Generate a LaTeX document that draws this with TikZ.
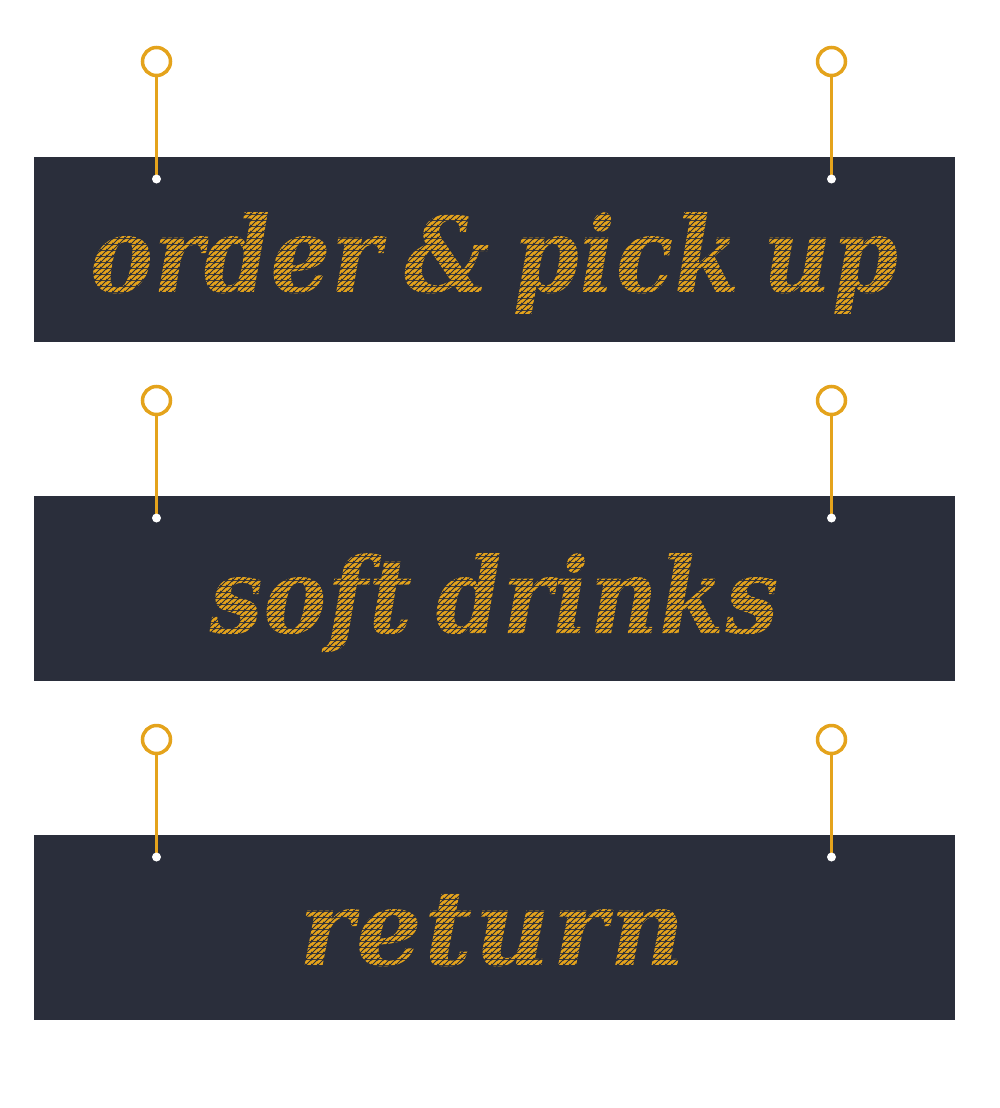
\documentclass[tikz,border=0pt]{standalone}
\usepackage{fontspec}
\newfontfamily\signfont[WordSpace=0.7]{DejaVu Serif Condensed}
\definecolor{boardC}{HTML}{2A2E3B}
\definecolor{goldC}{HTML}{E4A31C}
\pgfdeclarepatterninherentlycolored{hatchtext}{\pgfpointorigin}{\pgfqpoint{3pt}{3pt}}{\pgfqpoint{3pt}{3pt}}{%
  \pgfsetfillcolor{goldC}%
  \pgfpathrectangle{\pgfpointorigin}{\pgfqpoint{3pt}{3pt}}\pgfusepath{fill}%
  \pgfsetstrokecolor{boardC}\pgfsetlinewidth{0.45pt}%
  \pgfpathmoveto{\pgfqpoint{-0.5pt}{-0.5pt}}\pgfpathlineto{\pgfqpoint{3.5pt}{3.5pt}}%
  \pgfpathmoveto{\pgfqpoint{-0.5pt}{2.5pt}}\pgfpathlineto{\pgfqpoint{0.5pt}{3.5pt}}%
  \pgfpathmoveto{\pgfqpoint{2.5pt}{-0.5pt}}\pgfpathlineto{\pgfqpoint{3.5pt}{0.5pt}}%
  \pgfusepath{stroke}}
\newcommand\hatched[2]{\addfontfeature{LetterSpace=#1}\pgfsetfillpattern{hatchtext}{goldC}#2}
\tikzset{
  board/.style={rectangle, fill=boardC, draw=none, minimum width=460.5pt, minimum height=92.5pt, inner sep=0pt, outer sep=0pt},
  ring/.style={circle, draw=goldC, line width=1.75pt, minimum size=14pt, inner sep=0pt, outer sep=0pt},
  stem/.style={draw=goldC, line width=1.6pt},
  dotend/.style={circle, fill=white, minimum size=4.5pt, inner sep=0pt},
  signtext/.style={font=\signfont\bfseries\itshape\fontsize{52.5}{52.5}\selectfont, inner sep=0pt, anchor=base, transform shape}
}
\begin{document}
\begin{tikzpicture}[x=0.5pt,y=-0.5pt]
\useasboundingbox (0,0) rectangle (1000,1108);
\foreach \i/\t/\b/\txt/\tx/\ls/\xs in {1/157/292/{order \& pick up}/494/0.5/1, 2/496/633/{soft drinks}/494/0.7/1, 3/835/965/{return}/492/2/1.1}{
  \node[board] (b\i) at (494.5,\t+92.25) {};
  \node[ring] (rl\i) at (156.5,\t-95.5) {};
  \node[ring] (rr\i) at (831.5,\t-95.5) {};
  \coordinate (dl\i) at (156.5,\t+22);
  \coordinate (dr\i) at (831.5,\t+22);
  \draw[stem] (rl\i.south) -- (dl\i);
  \draw[stem] (rr\i.south) -- (dr\i);
  \node[dotend] (dotl\i) at (dl\i) {};
  \node[dotend] (dotr\i) at (dr\i) {};
  \node[signtext, xscale=\xs] (t\i) at (\tx,\b) {\hatched{\ls}{\txt}};
}
\end{tikzpicture}
\end{document}
